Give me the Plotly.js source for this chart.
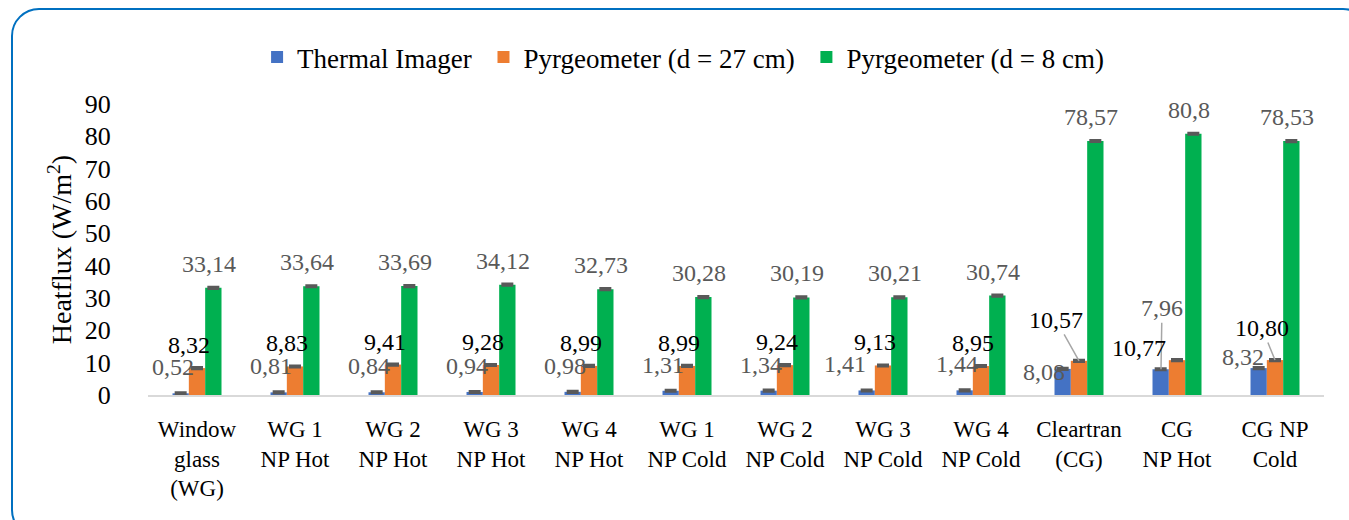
<!DOCTYPE html>
<html>
<head>
<meta charset="utf-8">
<script src="https://cdn.plot.ly/plotly-3.0.1.min.js"></script>
<style>
  html, body { margin: 0; padding: 0; background: #fff; }
  #wrap { position: relative; width: 1349px; height: 520px; overflow: hidden; }
  #frame { position: absolute; left: 11px; top: 8px; width: 1360px; height: 530px;
           border: 2.5px solid #0070C0; border-radius: 28px; box-sizing: border-box; pointer-events: none; z-index: 5; }
  #chart { position: absolute; left: 0; top: 0; width: 1349px; height: 520px; }
</style>
</head>
<body>
<div id="wrap">
  <div id="chart"></div>
  <div id="frame"></div>
</div>
<script>
// ---- data ----
const categories = [
  "Window<br>glass<br>(WG)", "WG 1<br>NP Hot", "WG 2<br>NP Hot", "WG 3<br>NP Hot", "WG 4<br>NP Hot",
  "WG 1<br>NP Cold", "WG 2<br>NP Cold", "WG 3<br>NP Cold", "WG 4<br>NP Cold",
  "Cleartran<br>(CG)", "CG<br>NP Hot", "CG NP<br>Cold"
];
const thermalImager = [0.52, 0.81, 0.84, 0.94, 0.98, 1.31, 1.34, 1.41, 1.44, 8.08, 7.96, 8.32];
const pyrgeo27 = [8.32, 8.83, 9.41, 9.28, 8.99, 8.99, 9.24, 9.13, 8.95, 10.57, 10.77, 10.80];
const pyrgeo8 = [33.14, 33.64, 33.69, 34.12, 32.73, 30.28, 30.19, 30.21, 30.74, 78.57, 80.8, 78.53];
const labelsTI = ["0,52","0,81","0,84","0,94","0,98","1,31","1,34","1,41","1,44","8,08","7,96","8,32"];
const labels27 = ["8,32","8,83","9,41","9,28","8,99","8,99","9,24","9,13","8,95","10,57","10,77","10,80"];
const labels8 = ["33,14","33,64","33,69","34,12","32,73","30,28","30,19","30,21","30,74","78,57","80,8","78,53"];
const errTI = [0.25, 0.25, 0.25, 0.25, 0.25, 0.25, 0.25, 0.25, 0.25, 0.25, 0.25, 0.25];
const err27 = [0.25, 0.25, 0.25, 0.25, 0.25, 0.25, 0.25, 0.25, 0.25, 0.25, 0.25, 0.25];
const err8 = [0.25, 0.25, 0.25, 0.25, 0.25, 0.25, 0.25, 0.25, 0.25, 0.25, 0.25, 0.25];
const yTicks = [0, 10, 20, 30, 40, 50, 60, 70, 80, 90];

// ---- styling ----
const FONT = "Liberation Serif, Times New Roman, serif";
const GRAY = "#595959";
const errStyle = (arr) => ({ type: "data", array: arr, visible: true, color: "#595959", thickness: 2.5, width: 6 });

const traces = [
  { type: "bar", name: "Thermal Imager\u00a0", x: categories, y: thermalImager,
    marker: { color: "#4472C4" }, error_y: errStyle(errTI), hoverinfo: "none" },
  { type: "bar", name: "Pyrgeometer (d = 27 cm)\u00a0", x: categories, y: pyrgeo27,
    marker: { color: "#ED7D31" }, error_y: errStyle(err27), hoverinfo: "none" },
  { type: "bar", name: "Pyrgeometer (d = 8 cm)", x: categories, y: pyrgeo8,
    marker: { color: "#00B050" }, error_y: errStyle(err8), hoverinfo: "none" }
];

// ---- data labels ----
const annotations = [];
const LBL = 24;
for (let i = 0; i < categories.length; i++) {
  annotations.push({ x: categories[i], y: pyrgeo8[i], text: labels8[i], showarrow: false,
    xshift: 12, yshift: 24, yanchor: "middle", font: { family: FONT, size: LBL, color: GRAY } });
  if (i < 9) {
    annotations.push({ x: categories[i], y: thermalImager[i], text: labelsTI[i], showarrow: false,
      xshift: (i === 7 ? -38 : -24), yshift: 26, yanchor: "middle", font: { family: FONT, size: LBL, color: GRAY } });
    annotations.push({ x: categories[i], y: pyrgeo27[i], text: labels27[i], showarrow: false,
      xshift: -8, yshift: 23, yanchor: "middle", font: { family: FONT, size: LBL, color: "#000" } });
  }
}
// Cleartran (CG)
annotations.push({ x: categories[9], y: thermalImager[9], text: labelsTI[9], showarrow: false,
  xshift: -35, yshift: -3, yanchor: "middle", font: { family: FONT, size: LBL, color: GRAY } });
annotations.push({ x: categories[9], y: pyrgeo27[9], text: labels27[9], showarrow: true, arrowhead: 0,
  arrowcolor: "#A6A6A6", arrowwidth: 1.5, ax: -23, ay: -41, font: { family: FONT, size: LBL, color: "#000" } });
// CG NP Hot
annotations.push({ x: categories[10], y: thermalImager[10], text: labelsTI[10], showarrow: true, arrowhead: 0,
  arrowcolor: "#A6A6A6", arrowwidth: 1.5, xshift: -16, ax: 1, ay: -61, font: { family: FONT, size: LBL, color: GRAY } });
annotations.push({ x: categories[10], y: pyrgeo27[10], text: labels27[10], showarrow: false,
  xshift: -38, yshift: 12, yanchor: "middle", font: { family: FONT, size: LBL, color: "#000" } });
// CG NP Cold
annotations.push({ x: categories[11], y: thermalImager[11], text: labelsTI[11], showarrow: false,
  xshift: -32, yshift: 11, yanchor: "middle", font: { family: FONT, size: LBL, color: GRAY } });
annotations.push({ x: categories[11], y: pyrgeo27[11], text: labels27[11], showarrow: true, arrowhead: 0,
  arrowcolor: "#A6A6A6", arrowwidth: 1.5, ax: -13, ay: -32, font: { family: FONT, size: LBL, color: "#000" } });

const layout = {
  width: 1349, height: 520,
  margin: { l: 148, r: 25, t: 104, b: 125, pad: 0 },
  paper_bgcolor: "#fff", plot_bgcolor: "#fff",
  font: { family: FONT, size: 24, color: "#000" },
  barmode: "group", bargap: 0.5, bargroupgap: 0,
  showlegend: true,
  legend: { orientation: "h", x: 0.455, xanchor: "center", y: 1.16, yanchor: "middle",
    font: { family: FONT, size: 27, color: "#000" }, traceorder: "normal" },
  xaxis: { type: "category", showgrid: false, zeroline: false, showline: true,
    linecolor: "#D9D9D9", linewidth: 2, ticks: "", ticklabelstandoff: 12,
    tickfont: { family: FONT, size: 23, color: "#000" }, fixedrange: true },
  yaxis: { range: [0, 90], tickvals: yTicks, showgrid: false, zeroline: false, showline: false,
    ticks: "outside", ticklen: 31, tickcolor: "rgba(255,255,255,0)", tickwidth: 1,
    tickfont: { family: FONT, size: 26, color: "#000" },
    title: { text: "Heatflux (W/m<sup>2</sup>)", font: { family: FONT, size: 28, color: "#000" }, standoff: 4 },
    fixedrange: true },
  annotations: annotations
};

Plotly.newPlot("chart", traces, layout, { displayModeBar: false, staticPlot: true });
</script>
</body>
</html>
